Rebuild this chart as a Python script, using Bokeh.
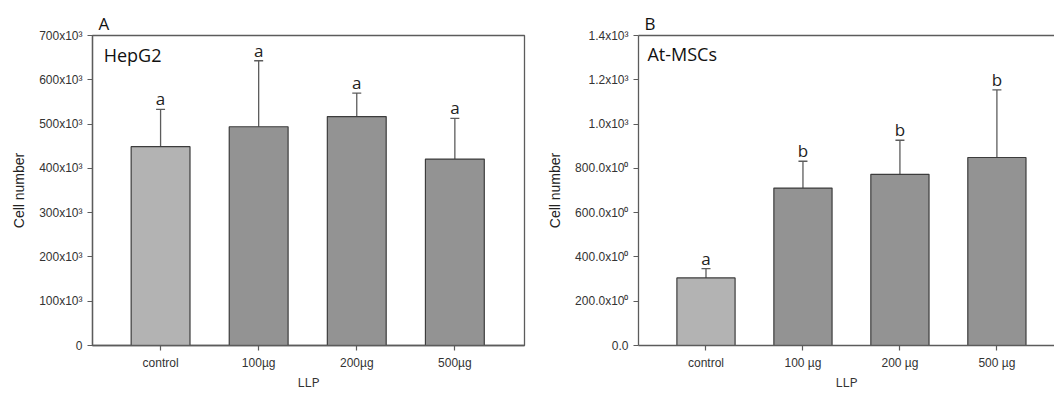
from bokeh.plotting import figure
from bokeh.models import (ColumnDataSource, FixedTicker, Whisker, TeeHead, Label,
                          LinearAxis, Range1d)
from bokeh.layouts import row
from bokeh.core.properties import value
from bokeh.embed import file_html
from bokeh.resources import INLINE

# ---------------- data ----------------
cats_a = ["control", "100µg", "200µg", "500µg"]
vals_a = [449000, 494000, 517000, 421000]
errs_a = [533000, 643000, 570000, 513000]
letters_a = ["a", "a", "a", "a"]
yticks_a = [0, 100000, 200000, 300000, 400000, 500000, 600000, 700000]
ylabels_a = ["0", "100x10³", "200x10³", "300x10³", "400x10³", "500x10³", "600x10³", "700x10³"]

cats_b = ["control", "100 µg", "200 µg", "500 µg"]
vals_b = [305, 711, 773, 849]
errs_b = [347, 832, 927, 1154]
letters_b = ["a", "b", "b", "b"]
yticks_b = [0, 200, 400, 600, 800, 1000, 1200, 1400]
ylabels_b = ["0.0", "200.0x10⁰", "400.0x10⁰", "600.0x10⁰", "800.0x10⁰", "1.0x10³", "1.2x10³", "1.4x10³"]

bar_colors = ["#b3b3b3", "#939393", "#939393", "#939393"]
FRAME = "#5c5c5c"
TICKF = "Liberation Sans"
TXTF = "Open Sans"


def make_panel(cats, vals, errs, letters, yticks, ylabels, ymax, xr, width,
               mbl, mbr, letter, name, name_pos, full_box):
    xs = list(range(1, len(cats) + 1))
    src = ColumnDataSource(dict(x=xs, top=vals, err=errs, lab=letters, color=bar_colors))
    p = figure(width=width, height=394, output_backend="svg", toolbar_location=None,
               x_range=Range1d(*xr), y_range=Range1d(0, ymax),
               min_border_left=mbl, min_border_right=mbr,
               min_border_top=35, min_border_bottom=49)
    p.background_fill_color = "white"
    p.border_fill_color = "white"
    p.xgrid.visible = False
    p.ygrid.visible = False
    p.outline_line_color = FRAME if full_box else None
    p.outline_line_width = 1.3

    p.vbar(x="x", top="top", width=0.6, source=src, fill_color="color",
           line_color="#3c3c3c", line_width=1.2)
    w = Whisker(base="x", lower="top", upper="err", source=src,
                line_color=FRAME, line_width=1.3,
                upper_head=TeeHead(size=9, line_color=FRAME, line_width=1.3),
                lower_head=None)
    p.add_layout(w)
    p.text(x="x", y="err", text="lab", source=src, text_align="center",
           text_baseline="bottom", y_offset=1, text_font=value(TXTF),
           text_font_size="17px", text_color="#222222")

    # axes
    for ax in (p.xaxis[0], p.yaxis[0]):
        ax.axis_line_color = FRAME
        ax.axis_line_width = 1.3
        ax.major_tick_line_color = FRAME
        ax.major_tick_line_width = 1.2
        ax.major_tick_out = 5
        ax.major_tick_in = 0
        ax.minor_tick_line_color = None
        ax.major_label_text_font = TICKF
        ax.major_label_text_font_size = "12px"
        ax.major_label_text_color = "#333333"
    p.xaxis.ticker = FixedTicker(ticks=xs)
    p.xaxis.major_label_overrides = {i: c for i, c in zip(xs, cats)}
    p.xaxis.major_label_standoff = 5
    p.xaxis.axis_label = "LLP"
    p.xaxis.axis_label_text_font = TXTF
    p.xaxis.axis_label_text_font_size = "13.5px"
    p.xaxis.axis_label_text_font_style = "normal"
    p.xaxis.axis_label_text_color = "#333333"
    p.xaxis.axis_label_standoff = 0
    p.yaxis.ticker = FixedTicker(ticks=yticks)
    p.yaxis.major_label_overrides = {t: l for t, l in zip(yticks, ylabels)}
    p.yaxis.major_label_standoff = 5
    p.yaxis.axis_label = "Cell number"
    p.yaxis.axis_label_text_font = TICKF
    p.yaxis.axis_label_text_font_size = "14px"
    p.yaxis.axis_label_text_font_style = "normal"
    p.yaxis.axis_label_text_color = "#222222"
    p.yaxis.axis_label_standoff = 9

    if not full_box:
        top = LinearAxis(ticker=FixedTicker(ticks=[]), axis_line_color=FRAME,
                         axis_line_width=1.3, major_tick_out=0, major_tick_in=0,
                         minor_tick_out=0, minor_tick_in=0)
        p.add_layout(top, "above")

    p.title.text = letter
    p.title.text_font = TXTF
    p.title.text_font_size = "17px"
    p.title.text_font_style = "normal"
    p.title.text_color = "#111111"
    p.title.align = "left"
    p.title.offset = 6
    p.title.standoff = 1

    p.add_layout(Label(x=name_pos[0], y=name_pos[1], text=name, text_align="left",
                       text_baseline="middle", text_font=TXTF,
                       text_font_size="18px", text_color="#111111"))
    return p


pa = make_panel(cats_a, vals_a, errs_a, letters_a, yticks_a, ylabels_a, 700000,
                (0.306, 4.71), 544, 92, 20, "A", "HepG2", (0.42, 655000), True)
pb = make_panel(cats_b, vals_b, errs_b, letters_b, yticks_b, ylabels_b, 1400,
                (0.304, 4.594), 510, 91, 0, "B", "At-MSCs", (0.396, 1318), False)

layout = row(pa, pb)
open("out.html", "w").write(file_html(layout, INLINE))
